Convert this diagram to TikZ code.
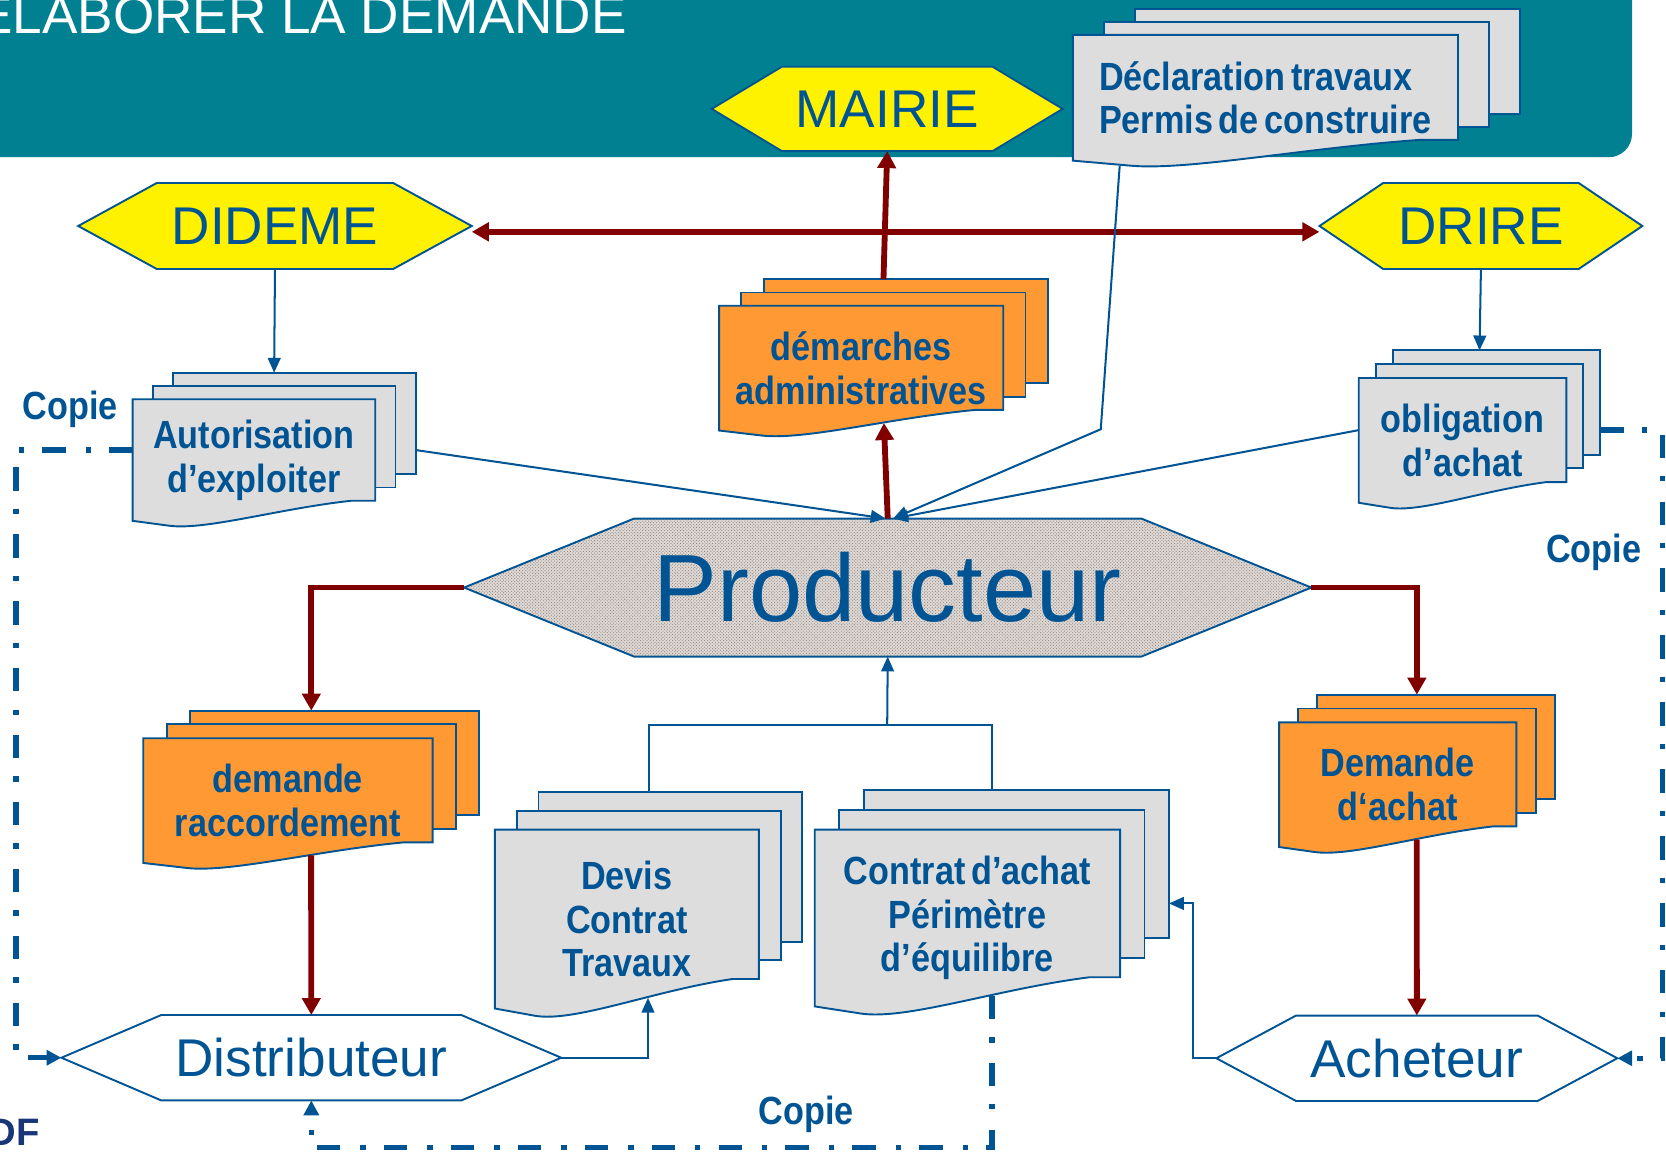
\documentclass[tikz,border=0pt]{standalone}
\usepackage{fontspec}
\setmainfont{Liberation Sans}
\newfontfamily\docfont[FakeStretch=0.87, WordSpace=0.6]{Liberation Sans}
\usetikzlibrary{arrows.meta,backgrounds,calc,patterns}

\definecolor{banner}{RGB}{0,128,145}
\definecolor{blu}{RGB}{0,84,147}
\definecolor{rouge}{RGB}{128,0,0}
\definecolor{docorange}{RGB}{255,153,51}
\definecolor{paper}{RGB}{221,221,221}
\definecolor{prodbg}{RGB}{222,216,213}
\definecolor{prodgray}{RGB}{135,122,114}
\definecolor{navy}{RGB}{25,55,120}

\tikzset{
  btip/.tip={Triangle[length=14pt,width=12pt]},
  rtip/.tip={Triangle[length=16pt,width=17pt]},
  ctip/.tip={Triangle[length=14pt,width=14pt]},
  hexa/.style={rectangle, inner sep=0pt, text=blu, font=\fontsize{50}{56}\selectfont},
  doc/.style={rectangle, inner sep=0pt, align=center, text=blu, font=\docfont\bfseries\fontsize{37}{41}\selectfont},
  copietxt/.style={text=blu, font=\docfont\bfseries\fontsize{37}{41}\selectfont},
  hexline/.style={draw=blu, line width=1.8pt},
  feuille/.style={draw=blu, line width=1.8pt},
  flow/.style={blu, line width=1.9pt, -btip},
  lien/.style={blu, line width=1.9pt},
  fleche/.style={rouge, line width=5.5pt, -rtip},
  copie/.style={blu, line width=5pt, dash pattern=on 22pt off 17pt on 5pt off 19pt, -ctip}
}

\newcommand\hexpath[3]{%
  \path[hexline, #3] (#1.west) -- ([xshift=#2pt]#1.north west) -- ([xshift=-#2pt]#1.north east)
    -- (#1.east) -- ([xshift=-#2pt]#1.south east) -- ([xshift=#2pt]#1.south west) -- cycle;}

\newcommand\docpages[4]{%
  \foreach \k in {2,1}
    \path[feuille, fill=#2] let \p1=(#1.south west), \p2=(#1.north east) in
      ({\x1+\k*#3pt},{\y1+0.165*(\y2-\y1)+\k*#4pt}) rectangle ({\x2+\k*#3pt},{\y2+\k*#4pt});
  \path[feuille, fill=#2] let \p1=(#1.south west), \p2=(#1.north east) in
    (\x1,\y2) -- (\x2,\y2) -- (\x2,{\y1+0.165*(\y2-\y1)})
    -- ({\x1+0.9*(\x2-\x1)},{\y1+0.165*(\y2-\y1)})
    .. controls ({\x1+0.6*(\x2-\x1)},{\y1+0.1*(\y2-\y1)}) and ({\x1+0.3*(\x2-\x1)},{\y1-0.08*(\y2-\y1)})
    .. ({\x1+0.15*(\x2-\x1)},{\y1-0.04*(\y2-\y1)}) -- (\x1,\y1) -- cycle;
  \path let \p1=(#1.south west), \p2=(#1.north east) in
    ({\x1+0.5*(\x2-\x1)+#3pt},{\y2+2*#4pt}) coordinate (#1-t)
    ({\x1+0.58*(\x2-\x1)},{\y1+0.06*(\y2-\y1)}) coordinate (#1-b)
    (\x1,{\y2-0.4175*(\y2-\y1)}) coordinate (#1-l)
    ({\x2+2*#3pt},{\y2-0.4175*(\y2-\y1)}) coordinate (#1-r);}

\begin{document}
\begin{tikzpicture}[x=1pt, y=-1pt]
\useasboundingbox (0,0) rectangle (1568,1086);

\node[anchor=base west, text=white, font=\fontsize{50}{56}\selectfont] (titre) at (-25,32) {ELABORER LA DEMANDE};
\node[hexa, minimum width=330, minimum height=79] (mairie) at (835,102.5) {MAIRIE};
\node[hexa, minimum width=370, minimum height=80.6] (dideme) at (258.8,212.7) {DIDEME};
\node[hexa, minimum width=303.5, minimum height=80.6] (drire) at (1393.8,212.7) {DRIRE};
\node[hexa, minimum width=797, minimum height=129.5, font=\fontsize{90}{100}\selectfont] (prod) at (835.5,553) {Producteur};
\node[hexa, minimum width=470, minimum height=80] (distrib) at (293,995.5) {Distributeur};
\node[hexa, minimum width=377, minimum height=80] (achet) at (1333.5,996) {Acheteur};

\node[doc, minimum width=362, minimum height=118, align=left] (declar) at (1191,92) {Déclaration travaux\\Permis de construire};
\node[doc, minimum width=228, minimum height=114] (autor) at (239,433) {Autorisation\\d’exploiter};
\node[doc, minimum width=267, minimum height=117] (demarch) at (810.5,346.5) {démarches\\administratives};
\node[doc, minimum width=195, minimum height=117] (oblig) at (1376.5,414.5) {obligation\\d’achat};
\node[doc, minimum width=272, minimum height=117] (racc) at (271,753.5) {demande\\raccordement};
\node[doc, minimum width=223, minimum height=117] (dachat) at (1315.5,738.5) {Demande\\d‘achat};
\node[doc, minimum width=248, minimum height=168] (devis) at (590,865) {Devis\\Contrat\\Travaux};
\node[doc, minimum width=287, minimum height=166] (contrat) at (910.5,864) {Contrat d’achat\\Périmètre\\d’équilibre};

\node[copietxt] (copie1) at (66,385) {Copie};
\node[copietxt] (copie2) at (1500,520) {Copie};
\node[copietxt] (copie3) at (759,1049) {Copie};
\node[anchor=base west, text=navy, font=\bfseries\fontsize{36}{40}\selectfont] (edf) at (-14,1078) {DF};

\coordinate (coude) at (1036,404);
\coordinate (jonction) at (835,682);
\coordinate (copieg) at (15,700);
\coordinate (copied) at (1565,700);
\coordinate (copieb) at (600,1080);

\begin{scope}[on background layer]
  \fill[banner, rounded corners=22pt] (-40,-40) rectangle (1536,148);
  \hexpath{mairie}{66}{fill=yellow}
  \hexpath{dideme}{74}{fill=yellow}
  \hexpath{drire}{60}{fill=yellow}
  \hexpath{prod}{160}{preaction={fill=prodbg}, pattern=crosshatch dots, pattern color=prodgray}
  \hexpath{distrib}{94}{fill=white}
  \hexpath{achet}{75}{fill=white}
  \docpages{declar}{paper}{29}{12.3}
  \docpages{autor}{paper}{19}{12.5}
  \docpages{demarch}{docorange}{21}{12.5}
  \docpages{oblig}{paper}{16}{13}
  \docpages{racc}{docorange}{22}{13}
  \docpages{dachat}{docorange}{18}{13}
  \docpages{devis}{paper}{20.5}{17.5}
  \docpages{contrat}{paper}{23}{18.5}
\end{scope}

\draw[fleche, rtip-rtip] ([yshift=-5.5pt]dideme.east) -- ([yshift=-5.5pt]drire.west);
\draw[fleche] (demarch-t) -- (mairie.south);
\draw[fleche] (prod.north) -- (demarch-b);
\draw[fleche] (prod.west) -| (racc-t);
\draw[fleche] (racc-b) -- (distrib.north);
\draw[fleche] (prod.east) -| (dachat-t);
\draw[fleche] (dachat-b) -- (achet.north);

\draw[flow] (dideme.south) -- (autor-t);
\draw[flow] (drire.south) -- (oblig-t);
\draw[flow] (autor-r) -- ([xshift=-2pt]prod.north);
\draw[flow] (oblig-l) -- ([xshift=5pt]prod.north);
\draw[flow] ([shift={(44pt,-5pt)}]declar.south west) -- (coude) -- ([xshift=5pt]prod.north);
\draw[lien] (devis-t) |- (jonction) -| (contrat-t);
\draw[flow] (jonction) -- (prod.south);
\draw[flow] (distrib.east) -| (devis-b);
\draw[flow] (achet.west) -| ([xshift=23pt]contrat-r) -- (contrat-r);

\draw[copie] (autor-l) -| (copieg) |- (distrib.west);
\draw[copie] (oblig-r) -| (copied) |- (achet.east);
\draw[copie] (contrat-b) |- (copieb) -| (distrib.south);
\end{tikzpicture}
\end{document}
